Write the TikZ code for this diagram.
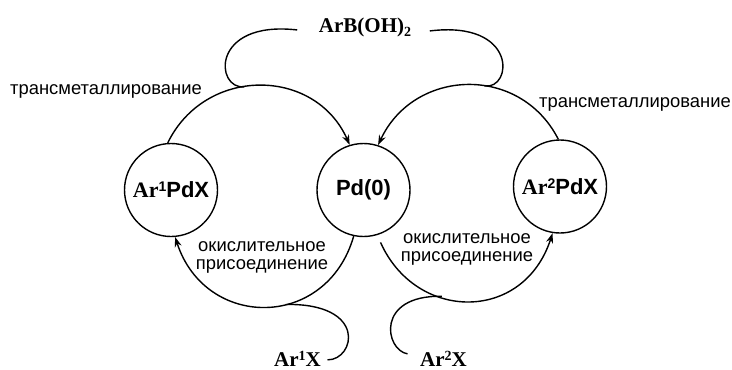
\documentclass[tikz,border=0pt]{standalone}
\usepackage{fontspec}
\setmainfont{Liberation Sans}
\newfontfamily\tms{Liberation Serif}
\usetikzlibrary{arrows.meta}
\newcommand{\supr}[1]{\raisebox{6pt}{\fontsize{14}{14}\selectfont #1}}
\newcommand{\subr}[1]{\raisebox{-4pt}{\fontsize{14}{14}\selectfont #1}}
\begin{document}
\begin{tikzpicture}[x=1pt,y=1pt,line width=1.4pt,
  state/.style={circle,draw,line width=1.4pt,minimum size=93pt,inner sep=0pt,
    font=\fontsize{22}{24}\selectfont\bfseries},
  reag/.style={inner sep=0pt,anchor=base,font=\fontsize{21}{24}\selectfont\tms\bfseries},
  lbl/.style={inner sep=0pt,align=center,font=\fontsize{18.4}{18}\selectfont},
  arr/.style={-{Stealth[length=10pt,width=7pt]}}]
\useasboundingbox (0,0) rectangle (732,-370);
% catalytic species
\node[state] (a1) at (171,-190) {{\tms Ar}\supr{1}PdX};
\node[state] (pd) at (363.5,-190) {Pd(0)};
\node[state] (a2) at (560,-186.5) {{\tms Ar}\supr{2}PdX};
% reagents
\node[reag] (tb) at (365,-32) {ArB(OH)\subr{2}};
\node[reag] (r1) at (297.5,-366) {Ar\supr{1}X};
\node[reag] (r2) at (443.5,-366) {Ar\supr{2}X};
% labels
\node[lbl] (t1) at (106,-91) {трансметаллирование};
\node[lbl] (t2) at (635,-104) {трансметаллирование};
\node[lbl] (o1) at (262,-257) {окислительное\\присоединение};
\node[lbl] (o2) at (467,-249.5) {окислительное\\присоединение};
% arcs
\draw[arr] (a1.94) to[out=64,in=114,looseness=1.2] coordinate[pos=0.43] (j1) (pd.107);
\draw[arr] (a2.92) to[out=117,in=65,looseness=1.2] coordinate[pos=0.42] (j2) (pd.72);
\draw[arr] (pd.258) to[out=-106,in=-72,looseness=1.4] coordinate[pos=0.41] (j3) (a1.275);
\draw[arr,shorten <=8pt] (pd.-73) to[out=-66,in=-108,looseness=1.38] coordinate[pos=0.375] (j4) (a2.-99);
% hooks
\draw (j1) .. controls (215,-90) and (210,-20) .. ([xshift=-21pt,yshift=-3pt]tb.west);
\draw (j2) .. controls (513,-90) and (518,-20) .. ([xshift=18pt,yshift=-4pt]tb.east);
\draw (j3) .. controls (368,-303) and (355,-360) .. ([xshift=6pt,yshift=-1.5pt]r1.east);
\draw (j4) .. controls (375,-295) and (385,-350) .. ([xshift=-12pt,yshift=4.5pt]r2.west);
\end{tikzpicture}
\end{document}
